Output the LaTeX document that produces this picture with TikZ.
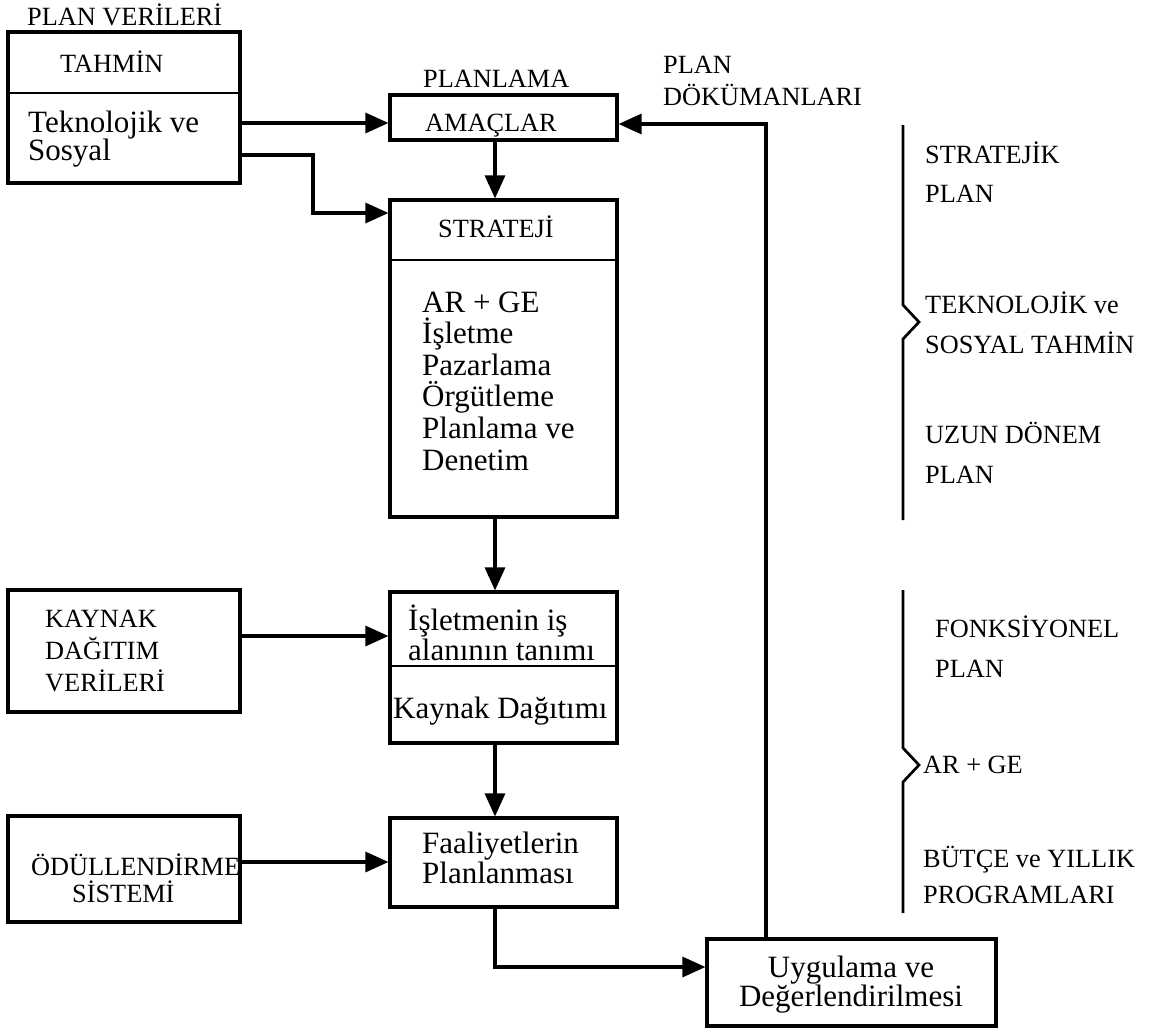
\documentclass[tikz,border=0pt]{standalone}
\usepackage{fontspec}
\setmainfont{Liberation Serif}
\usetikzlibrary{arrows.meta}
\begin{document}
\begin{tikzpicture}[x=1pt,y=-1pt,
  box/.style={draw, line width=3.1pt, inner sep=0pt},
  rule/.style={line width=2.7pt},
  caps/.style={font=\fontsize{26.3}{30}\selectfont, inner sep=0pt, anchor=base west},
  body/.style={font=\fontsize{31}{32}\selectfont, inner sep=0pt, anchor=base west},
  bodyc/.style={font=\fontsize{31}{32}\selectfont, inner sep=0pt, anchor=base},
  arr/.style={line width=3.1pt, -{Triangle[length=23pt,width=20pt]}},
  bracket/.style={line width=2.7pt, line join=miter}]
\useasboundingbox (0,0) rectangle (1165,1028);

% ---------- left column: input data ----------
\node[caps] (planveri) at (27,25) {PLAN VERİLERİ};
\node[box, minimum width=232pt, minimum height=151pt] (tahmin) at (124,107.5) {};
\draw[rule] (tahmin.west |- 0,93) -- (tahmin.east |- 0,93);
\node[caps] (tahminbaslik) at (60,72) {TAHMİN};
\node[body] (tek1) at (28,132) {Teknolojik ve};
\node[body] (tek2) at (28,160) {Sosyal};

\node[box, minimum width=232pt, minimum height=122pt] (kaynak) at (124,651) {};
\node[caps] (kay1) at (45,627) {KAYNAK};
\node[caps] (kay2) at (45,659) {DAĞITIM};
\node[caps] (kay3) at (45,691) {VERİLERİ};

\node[box, minimum width=232pt, minimum height=106pt] (odul) at (124,869) {};
\node[caps] (odul1) at (31,875) {ÖDÜLLENDİRME};
\node[caps] (odul2) at (72,902) {SİSTEMİ};

% ---------- middle column: planning chain ----------
\node[caps] (planlama) at (423,87) {PLANLAMA};
\node[box, minimum width=227pt, minimum height=45pt] (amaclar) at (503.5,117.5) {};
\node[caps] (amactext) at (425,131) {AMAÇLAR};

\node[box, minimum width=227pt, minimum height=317pt] (strateji) at (503.5,358.5) {};
\draw[rule] (strateji.west |- 0,260) -- (strateji.east |- 0,260);
\node[caps] (stratbaslik) at (438,237) {STRATEJİ};
\node[body] (s1) at (422,312) {AR + GE};
\node[body] (s2) at (422,343.6) {İşletme};
\node[body] (s3) at (422,375.2) {Pazarlama};
\node[body] (s4) at (422,406.8) {Örgütleme};
\node[body] (s5) at (422,438.4) {Planlama ve};
\node[body] (s6) at (422,470) {Denetim};

\node[box, minimum width=227pt, minimum height=151pt] (isletme) at (503.5,667.5) {};
\draw[rule] (isletme.west |- 0,666) -- (isletme.east |- 0,666);
\node[body] (is1) at (408,630) {İşletmenin iş};
\node[body] (is2) at (408,660) {alanının tanımı};
\node[body] (is3) at (393,718) {Kaynak Dağıtımı};

\node[box, minimum width=227pt, minimum height=89pt] (faal) at (503.5,862.5) {};
\node[body] (f1) at (422,853) {Faaliyetlerin};
\node[body] (f2) at (422,883) {Planlanması};

\node[box, minimum width=289pt, minimum height=87pt] (uyg) at (851.5,982.5) {};
\node[bodyc] (u1) at (851,977) {Uygulama ve};
\node[bodyc] (u2) at (851,1006) {Değerlendirilmesi};

\node[caps] (pd1) at (663,73) {PLAN};
\node[caps] (pd2) at (663,105) {DÖKÜMANLARI};

% ---------- connectors ----------
\coordinate (knee) at (313,213);
\draw[arr] (tahmin.east |- 0,123) -- (amaclar.west |- 0,123);
\draw[arr] (tahmin.east |- 0,155) -| (knee) -- (strateji.west |- knee);
\draw[arr] (amaclar.south -| 495,0) -- (strateji.north -| 495,0);
\draw[arr] (strateji.south -| 495,0) -- (isletme.north -| 495,0);
\draw[arr] (kaynak.east |- 0,636) -- (isletme.west |- 0,636);
\draw[arr] (isletme.south -| 495,0) -- (faal.north -| 495,0);
\draw[arr] (odul.east |- 0,862) -- (faal.west |- 0,862);
\draw[arr] (faal.south -| 495,0) |- (uyg.west |- 0,967);
\draw[arr] (uyg.north -| 766,0) |- (amaclar.east |- 0,124);

% ---------- right side: plan levels ----------
\draw[bracket] (903,125) -- (903,305) -- (919,322) -- (903,339) -- (903,520);
\node[caps] (r1) at (925,163) {STRATEJİK};
\node[caps] (r2) at (925,202) {PLAN};
\node[caps] (r3) at (925,313) {TEKNOLOJİK ve};
\node[caps] (r4) at (925,353) {SOSYAL TAHMİN};
\node[caps] (r5) at (925,443) {UZUN DÖNEM};
\node[caps] (r6) at (925,483) {PLAN};

\draw[bracket] (903,590) -- (903,748) -- (919,765) -- (903,782) -- (903,913);
\node[caps] (r7) at (935,637) {FONKSİYONEL};
\node[caps] (r8) at (935,677) {PLAN};
\node[caps] (r9) at (923,773) {AR + GE};
\node[caps] (r10) at (923,867) {BÜTÇE ve YILLIK};
\node[caps] (r11) at (923,903) {PROGRAMLARI};
\end{tikzpicture}
\end{document}
